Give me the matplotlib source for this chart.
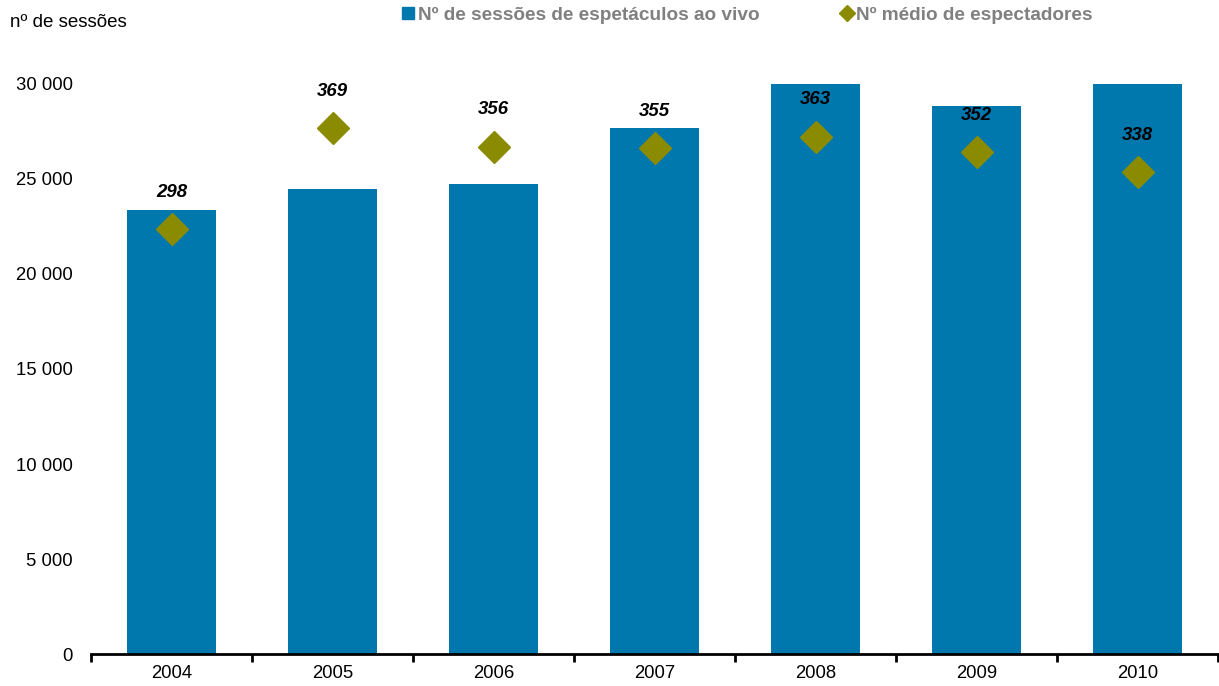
import matplotlib.pyplot as plt
from matplotlib.lines import Line2D
from matplotlib.patches import Patch
from matplotlib.ticker import FuncFormatter
import numpy as np

plt.rcParams['font.family'] = ['Liberation Sans', 'DejaVu Sans']

anos = ["2004", "2005", "2006", "2007", "2008", "2009", "2010"]
sessoes = [23370, 24470, 24740, 27680, 30600, 28840, 30800]
espectadores = [298, 369, 356, 355, 363, 352, 338]

cor_barra = "#0077AD"
cor_diamante = "#8B8B00"

fig = plt.figure(figsize=(12.19, 6.86), dpi=100)
ax = fig.add_axes([0.0747, 0.0466, 0.9245, 0.831])

x = np.arange(len(anos))
ax.bar(x, sessoes, width=0.555, color=cor_barra, zorder=2)
ax.set_xlim(-0.5, len(anos) - 0.5)
ax.set_ylim(0, 30000)
ax.set_yticks(np.arange(0, 30001, 5000))
ax.yaxis.set_major_formatter(FuncFormatter(lambda v, p: f"{int(v):,}".replace(",", " ")))
ax.set_xticks(x)
ax.set_xticklabels(anos)
ax.set_xticks(np.arange(-0.5, len(anos), 1), minor=True)
ax.tick_params(axis='x', which='major', length=0, labelsize=13.3, pad=8)
ax.tick_params(axis='x', which='minor', length=6, width=2, direction='out')
ax.tick_params(axis='y', length=0, labelsize=13.3, pad=13)
for s in ['top', 'right', 'left']:
    ax.spines[s].set_visible(False)
ax.spines['bottom'].set_linewidth(2)

# eixo secundario (oculto) para o numero medio de espectadores
ax2 = ax.twinx()
ax2.set_ylim(0, 400)
ax2.plot(x, espectadores, linestyle='none', marker='D', markersize=16,
         color=cor_diamante, zorder=3)
for xi, v in zip(x, espectadores):
    ax2.annotate(str(v), (xi, v), xytext=(0, 26.5), textcoords='offset points',
                 ha='center', va='center', fontsize=13.4, fontweight='bold',
                 fontstyle='italic', color='black')
ax2.axis('off')

fig.text(0.008, 0.967, "nº de sessões", fontsize=13.5, va='center', ha='left')

handles = [Patch(color=cor_barra),
           Line2D([], [], linestyle='none', marker='D', markersize=8, color=cor_diamante)]
labels = ["Nº de sessões de espetáculos ao vivo", "Nº médio de espectadores"]
leg = fig.legend(handles, labels, loc='center left', bbox_to_anchor=(0.316, 0.978),
                 ncol=2, frameon=False, handlelength=0.6, handleheight=0.6,
                 handletextpad=0.2, columnspacing=4.3,
                 prop={'size': 13.7, 'weight': 'bold'})
for t in leg.get_texts():
    t.set_color("#808080")

fig.savefig("out.png", dpi=100)
